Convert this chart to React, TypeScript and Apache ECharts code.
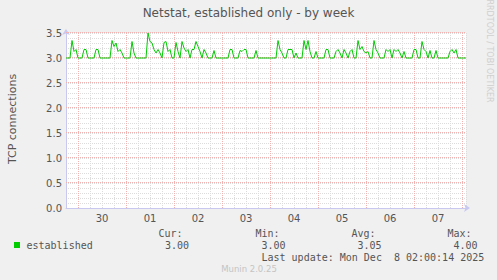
import React, { useEffect, useRef } from 'react';
import * as echarts from 'echarts';

// Hourly samples starting Sat Nov 29 18:00 (hour 0) until Mon Dec 8 02:00 (hour 200)
const connections: number[] = [
  3, 3, 3, 3.35, 3.13, 3.17, 3, 3, 3, 3.17, 3.17, 3, 3, 3, 3, 3.17, 3.17, 3, 3, 3, 3, 3, 3, 3.35,
  3.23, 3.3, 3.13, 3.17, 3.1, 3, 3, 3, 3, 3.33, 3.1, 3, 3, 3, 3, 3, 3, 3.5, 3.33, 3.3, 3.17, 3.1, 3.17, 3.1,
  3, 3.31, 3.33, 3.13, 3.17, 3, 3, 3.31, 3.13, 3, 3.33, 3.2, 3.13, 3.17, 3, 3.17, 3.17, 3.33, 3.23, 3.13, 3, 3.17, 3.1, 3,
  3, 3, 3.15, 3, 3, 3, 3, 3, 3, 3, 3.17, 3.17, 3, 3, 3, 3.15, 3.13, 3.17, 3.17, 3, 3, 3, 3, 3.15,
  3, 3, 3, 3, 3, 3, 3, 3, 3, 3, 3.35, 3.17, 3.1, 3, 3, 3.17, 3.17, 3.17, 3, 3.1, 3, 3, 3, 3.35,
  3.17, 3.35, 3.13, 3, 3, 3.13, 3, 3, 3, 3, 3.17, 3.17, 3, 3, 3, 3.13, 3.17, 3.1, 3, 3.17, 3.1, 3, 3.13, 3.17,
  3, 3, 3.35, 3.17, 3.23, 3.13, 3.1, 3.13, 3, 3, 3.35, 3.17, 3.1, 3, 3, 3, 3.17, 3.13, 3.17, 3, 3.17, 3.13, 3.17, 3.1,
  3, 3.13, 3, 3, 3, 3, 3.17, 3.17, 3, 3, 3.33, 3.17, 3.13, 3, 3.15, 3, 3, 3.15, 3, 3, 3, 3, 3, 3,
  3.13, 3.17, 3.1, 3.17, 3, 3, 3, 3, 3,
];

const dayLabels = ['30', '01', '02', '03', '04', '05', '06', '07'];
const dayMiddayHours = [18, 42, 66, 90, 114, 138, 162, 186];
const dayBoundaryHours = [6, 30, 54, 78, 102, 126, 150, 174, 198];
const yMajorTicks = [0.5, 1, 1.5, 2, 2.5, 3, 3.5];
const yMin = 0;
const yMax = 3.5;
const xMin = 0;
const xMax = 200;

const statLabels = ['Cur:', 'Min:', 'Avg:', 'Max:'];
const statValues = ['3.00', '3.00', '3.05', '4.00'];

const TITLE = 'Netstat, established only - by week';
const Y_NAME = 'TCP connections';
const SERIES_NAME = 'established';
const LAST_UPDATE = 'Last update: Mon Dec  8 02:00:14 2025';
const FOOTER = 'Munin 2.0.25';
const WATERMARK = 'RRDTOOL / TOBI OETIKER';

const MAJOR_GRID = '#f5b0b0';

export default function App() {
  const ref = useRef<HTMLDivElement>(null);
  useEffect(() => {
    if (!ref.current) return;
    const chart = echarts.init(ref.current, undefined, { renderer: 'svg' });
    const seriesData = connections.map((v, i) => [i, v]);
    const mono = '10px "DejaVu Sans Mono"';
    const statLabelX = [158.5, 255.5, 351.5, 447.5];
    const statValueX = [165, 261.5, 357.5, 453.5];
    const graphics: any[] = [
      { type: 'text', x: 248.5, y: 13, style: { text: TITLE, font: '12px "DejaVu Sans"', fill: '#555', textAlign: 'center', textVerticalAlign: 'middle' } },
      { type: 'text', x: 12, y: 119, rotation: Math.PI / 2, style: { text: Y_NAME, font: '11px "DejaVu Sans"', fill: '#555', textAlign: 'center', textVerticalAlign: 'middle' } },
      { type: 'text', x: 489, y: 51, rotation: -Math.PI / 2, style: { text: WATERMARK, font: '8px "DejaVu Sans"', fill: '#cfcfcf', textAlign: 'center', textVerticalAlign: 'middle' } },
      { type: 'rect', shape: { x: 14, y: 242, width: 6, height: 6 }, style: { fill: '#00cc00' } },
      { type: 'text', x: 26.5, y: 245.3, style: { text: SERIES_NAME, font: mono, fill: '#555', textAlign: 'left', textVerticalAlign: 'middle' } },
      { type: 'text', x: 261.5, y: 257.7, style: { text: LAST_UPDATE, font: mono, fill: '#555', textAlign: 'left', textVerticalAlign: 'middle' } },
      { type: 'text', x: 249, y: 269.3, style: { text: FOOTER, font: '8.5px "DejaVu Sans"', fill: '#c4c4c4', textAlign: 'center', textVerticalAlign: 'middle' } },
    ];
    statLabels.forEach((s, i) => {
      graphics.push({ type: 'text', x: statLabelX[i], y: 233.3, style: { text: s, font: mono, fill: '#555', textAlign: 'left', textVerticalAlign: 'middle' } });
      graphics.push({ type: 'text', x: statValueX[i], y: 245.3, style: { text: statValues[i], font: mono, fill: '#555', textAlign: 'left', textVerticalAlign: 'middle' } });
    });

    const axisColor = '#c8c8f0';
    chart.setOption({
      animation: false,
      backgroundColor: '#f0f0f0',
      grid: { left: 66, top: 33, width: 400, height: 175, show: true, backgroundColor: '#ffffff', borderWidth: 0 },
      xAxis: {
        type: 'value', min: xMin, max: xMax, interval: 6,
        axisLine: { show: true, lineStyle: { color: axisColor, width: 1 }, symbol: ['none', 'arrow'], symbolSize: [6, 6], symbolOffset: [0, 4] },
        axisTick: { show: false },
        axisLabel: {
          color: '#555', fontSize: 10, fontFamily: 'DejaVu Sans', margin: 5, hideOverlap: false,
          formatter: (v: number) => { const i = dayMiddayHours.indexOf(Math.round(v)); return i >= 0 ? dayLabels[i] : ''; },
        },
        splitLine: { show: true, lineStyle: { color: '#dcdcdc', type: [1, 1], width: 1 } },
      },
      yAxis: {
        type: 'value', min: yMin, max: yMax, interval: 0.1,
        axisLine: { show: true, lineStyle: { color: axisColor, width: 1 }, symbol: ['none', 'arrow'], symbolSize: [6, 6], symbolOffset: [0, 4] },
        axisTick: { show: false },
        axisLabel: {
          color: '#555', fontSize: 10, fontFamily: 'DejaVu Sans', margin: 4, hideOverlap: false,
          formatter: (v: number) => (Math.abs(v * 2 - Math.round(v * 2)) < 1e-6 ? v.toFixed(1) : ''),
        },
        splitLine: { show: true, lineStyle: { color: '#dcdcdc', type: [1, 1], width: 1 } },
      },
      series: [
        {
          type: 'custom', z: 2, silent: true,
          data: dayBoundaryHours.map((h) => [h, yMin]),
          renderItem: (params: any, api: any) => {
            const h = api.value(0);
            const p1 = api.coord([h, yMin]);
            const p2 = api.coord([h, yMax]);
            const x = Math.round(p1[0]) + 0.5;
            return { type: 'line', shape: { x1: x, y1: p2[1], x2: x, y2: p1[1] }, style: { stroke: MAJOR_GRID, lineWidth: 1, lineDash: [1, 1] } };
          },
        },
        {
          type: 'custom', z: 2, silent: true,
          data: yMajorTicks.map((v) => [xMin, v]),
          renderItem: (params: any, api: any) => {
            const v = api.value(1);
            const p1 = api.coord([xMin, v]);
            const p2 = api.coord([xMax, v]);
            const y = Math.round(p1[1]) - 0.5;
            return { type: 'line', shape: { x1: p1[0], y1: y, x2: p2[0], y2: y }, style: { stroke: MAJOR_GRID, lineWidth: 1, lineDash: [1, 1] } };
          },
        },
        {
          name: SERIES_NAME, type: 'line', data: seriesData, z: 6, showSymbol: false, symbol: 'none',
          lineStyle: { color: '#00cc00', width: 1 },
        },
      ],
      graphic: graphics,
    });
    return () => chart.dispose();
  }, []);
  return <div ref={ref} style={{ position: 'fixed', left: 0, top: 0, width: 497, height: 280 }} />;
}
